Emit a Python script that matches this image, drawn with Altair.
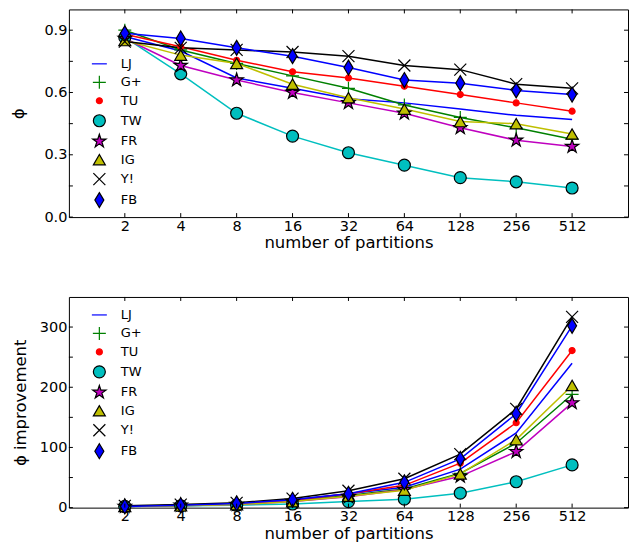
import altair as alt
import pandas as pd

partitions = [2, 4, 8, 16, 32, 64, 128, 256, 512]
series = ["LJ", "G+", "TU", "TW", "FR", "IG", "Y!", "FB"]

# phi values (top panel)
phi_LJ = [0.87, 0.80, 0.67, 0.62, 0.57, 0.55, 0.52, 0.49, 0.47]
phi_Gp = [0.90, 0.805, 0.74, 0.68, 0.62, 0.54, 0.48, 0.43, 0.375]
phi_TU = [0.88, 0.82, 0.755, 0.70, 0.67, 0.63, 0.59, 0.55, 0.51]
phi_TW = [0.865, 0.69, 0.50, 0.39, 0.31, 0.25, 0.19, 0.17, 0.14]
phi_FR = [0.86, 0.73, 0.66, 0.60, 0.55, 0.50, 0.43, 0.37, 0.34]
phi_IG = [0.85, 0.78, 0.74, 0.64, 0.575, 0.52, 0.46, 0.45, 0.40]
phi_Y = [0.845, 0.815, 0.805, 0.795, 0.775, 0.73, 0.71, 0.64, 0.62]
phi_FB = [0.885, 0.86, 0.815, 0.775, 0.72, 0.66, 0.645, 0.61, 0.59]

# phi improvement values (bottom panel)
imp_LJ = [2, 3, 5, 13, 23, 34, 64, 124, 240]
imp_Gp = [2, 4, 6, 11, 20, 31, 57, 107, 188]
imp_TU = [2, 4, 6, 12, 23, 37, 74, 141, 261]
imp_TW = [2, 3, 4, 6, 10, 14, 24, 43, 71]
imp_FR = [2, 4, 5, 10, 18, 30, 52, 93, 174]
imp_IG = [2, 3, 5, 10, 19, 29, 56, 113, 203]
imp_Y = [3, 5, 8, 15, 28, 48, 89, 164, 317]
imp_FB = [2, 4, 7, 13, 23, 42, 81, 156, 302]

phi = [phi_LJ, phi_Gp, phi_TU, phi_TW, phi_FR, phi_IG, phi_Y, phi_FB]
imp = [imp_LJ, imp_Gp, imp_TU, imp_TW, imp_FR, imp_IG, imp_Y, imp_FB]

phi_ticks = [0.0, 0.15, 0.3, 0.45, 0.6, 0.75, 0.9]
imp_ticks = [0, 50, 100, 150, 200, 250, 300]

line_colors = ["#0000ff", "#008000", "#ff0000", "#00bfbf", "#bf00bf", "#bfbf00", "#000000", "#0000ff"]
fill_colors = ["#0000ff", "transparent", "#ff0000", "#00bfbf", "#bf00bf", "#bfbf00", "transparent", "#0000ff"]
edge_colors = ["#0000ff", "#008000", "#ff0000", "#000000", "#000000", "#000000", "#000000", "#000000"]
STAR = ("M0,-1L0.2245,-0.309L0.951,-0.309L0.363,0.118L0.588,0.809L0,0.382"
        "L-0.588,0.809L-0.363,0.118L-0.951,-0.309L-0.2245,-0.309Z")
shapes = ["stroke", "M-1,0L1,0M0,-1L0,1", "circle", "circle", STAR, "triangle-up",
          "M-1,-1L1,1M-1,1L1,-1", "M0,-1L0.6,0L0,1L-0.6,0Z"]
sizes = [225, 169, 36, 144, 196, 144, 144, 225]

rows_phi = []
rows_imp = []
for s, lc, pv, iv in zip(series, line_colors, phi, imp):
    for p, a, b in zip(partitions, pv, iv):
        rows_phi.append({"series": s, "lc": lc, "partitions": p, "value": a})
        rows_imp.append({"series": s, "lc": lc, "partitions": p, "value": b})
df_phi = pd.DataFrame(rows_phi)
df_imp = pd.DataFrame(rows_imp)

W = 560


def panel(df, H, ytitle, title_x, ydomain, yticks, ylabel_expr, legend_y):
    xscale = alt.Scale(type="log", base=2, domain=[1, 1024], nice=False)
    yscale = alt.Scale(domain=ydomain, nice=False, zero=True)
    x = alt.X("partitions:Q", scale=xscale,
              axis=alt.Axis(values=partitions, format="d", title="number of partitions"))
    y = alt.Y("value:Q", scale=yscale,
              axis=alt.Axis(values=yticks, title=ytitle, labelExpr=ylabel_expr,
                            titleX=title_x, titleBaseline="middle"))
    leg = alt.Legend(title=None, orient="none", legendX=22, legendY=legend_y,
                     labelFontSize=13, labelOffset=13, rowPadding=-1.5,
                     gridAlign="all", padding=0, symbolStrokeWidth=1.2)
    lines = alt.Chart(df).mark_line(strokeWidth=1.5).encode(
        x=x, y=y,
        color=alt.Color("lc:N", scale=None),
        detail="series:N",
    )
    points = alt.Chart(df).transform_filter("datum.series != 'LJ'").mark_point(
        filled=True, opacity=1, strokeWidth=1.2
    ).encode(
        x=x, y=y,
        fill=alt.Fill("series:N", scale=alt.Scale(domain=series, range=fill_colors), legend=leg),
        stroke=alt.Stroke("series:N", scale=alt.Scale(domain=series, range=edge_colors), legend=leg),
        shape=alt.Shape("series:N", scale=alt.Scale(domain=series, range=shapes), legend=leg),
        size=alt.Size("series:N", scale=alt.Scale(type="ordinal", domain=series, range=sizes), legend=leg),
    )
    xt = pd.DataFrame({"t": partitions})
    yt = pd.DataFrame({"t": yticks})
    tb = alt.Chart(xt).mark_rule(color="black", strokeWidth=1).encode(
        x=alt.X("t:Q", scale=xscale), y=alt.value(H), y2=alt.value(H - 4))
    tt = alt.Chart(xt).mark_rule(color="black", strokeWidth=1).encode(
        x=alt.X("t:Q", scale=xscale), y=alt.value(0), y2=alt.value(4))
    tl = alt.Chart(yt).mark_rule(color="black", strokeWidth=1).encode(
        y=alt.Y("t:Q", scale=yscale), x=alt.value(0), x2=alt.value(4))
    tr = alt.Chart(yt).mark_rule(color="black", strokeWidth=1).encode(
        y=alt.Y("t:Q", scale=yscale), x=alt.value(W - 4), x2=alt.value(W))
    return alt.layer(lines, points, tb, tt, tl, tr).properties(width=W, height=H)


top = panel(df_phi, 208, "ϕ", -50, [0, 1.0], phi_ticks,
            "datum.value == 0 ? '0.0' : format(datum.value, '~g')", 46)
bottom = panel(df_imp, 211, "ϕ improvement", -48, [0, 350], imp_ticks,
               "format(datum.value, 'd')", 9.5)

chart = alt.vconcat(top, bottom, spacing=44).resolve_scale(
    fill="independent", stroke="independent",
    shape="independent", size="independent"
).resolve_legend(
    fill="independent", stroke="independent",
    shape="independent", size="independent"
).properties(
    padding={"left": 2, "top": 0, "right": 5, "bottom": 0}
).configure_view(stroke="black", strokeWidth=1).configure_axis(
    labelFont="DejaVu Sans", titleFont="DejaVu Sans", labelFontSize=14.5,
    titleFontSize=16.5, titleFontWeight="normal", labelColor="black",
    titleColor="black", ticks=False, domain=False, grid=False,
    labelPadding=2, titlePadding=2
).configure_legend(labelFont="DejaVu Sans", labelColor="black")

chart.save("out.html", embed_options={"renderer": "svg", "actions": False})
